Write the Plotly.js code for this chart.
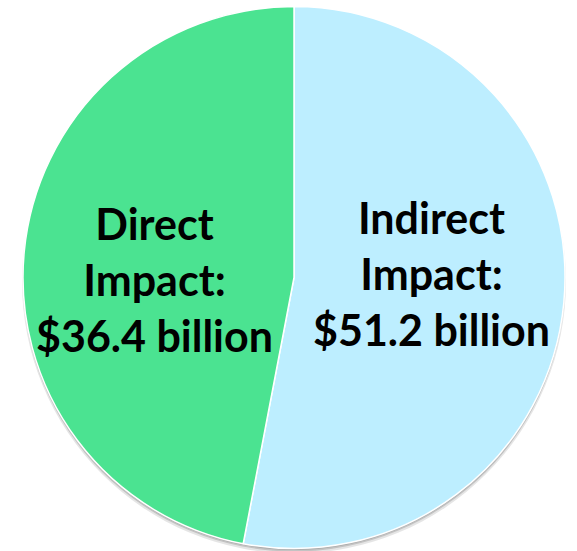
<!DOCTYPE html>
<html>
<head>
<meta charset="utf-8">
<script src="https://cdn.plot.ly/plotly-3.0.1.min.js"></script>
<style>html,body{margin:0;padding:0;background:#fff;}#chart{width:577px;height:551px;}</style>
</head>
<body>
<div id="chart"></div>
<script>
// Slices, in drawing order (clockwise from 12 o'clock)
const categories = ["Indirect Impact:", "Direct Impact:"];
const categoryLines = [["Indirect", "Impact:"], ["Direct", "Impact:"]];
const amounts = ["$51.2 billion", "$36.4 billion"];
// Slice shares (%)
const sliceShare = [53.0, 47.0];
const colors = ["#BDEEFF", "#4BE391"];

const W = 577, H = 551;
const cx = 294, cy = 277.5, R = 271;

const pie = {
  type: "pie",
  labels: categories,
  values: sliceShare,
  sort: false,
  direction: "clockwise",
  rotation: 0,
  textinfo: "none",
  hoverinfo: "label",
  showlegend: false,
  marker: { colors: colors, line: { color: "#ffffff", width: 1.5 } },
  domain: { x: [(cx - R) / W, (cx + R) / W], y: [1 - (cy + R) / H, 1 - (cy - R) / H] }
};

const labelPos = [ {x: 431, y: 274}, {x: 154, y: 279} ];
const annotations = categories.map((c, i) => ({
  xref: "paper", yref: "paper",
  x: labelPos[i].x / W, y: 1 - labelPos[i].y / H,
  xanchor: "center", yanchor: "middle",
  showarrow: false, align: "center",
  text: categoryLines[i].join("<br>") + "<br>" + amounts[i],
  font: { family: "Lato, 'Open Sans', sans-serif", size: 43, color: "#000000", weight: 700 }
}));

const shadow = [
  {off: 4, r: R + 1, a: 0.10},
  {off: 3, r: R, a: 0.15},
  {off: 1.5, r: R, a: 0.12}
].map(s => ({
  type: "circle", layer: "below",
  xref: "paper", yref: "paper",
  xsizemode: "pixel", ysizemode: "pixel",
  xanchor: cx / W, yanchor: 1 - cy / H,
  x0: -s.r, x1: s.r, y0: -s.r - s.off, y1: s.r - s.off,
  fillcolor: "rgba(0,0,0," + s.a + ")",
  line: { width: 0 }
}));

const layout = {
  width: W, height: H,
  margin: { l: 0, r: 0, t: 0, b: 0 },
  paper_bgcolor: "#ffffff",
  plot_bgcolor: "#ffffff",
  annotations: annotations,
  shapes: shadow
};

Plotly.newPlot("chart", [pie], layout, { displayModeBar: false, staticPlot: true });
</script>
</body>
</html>
